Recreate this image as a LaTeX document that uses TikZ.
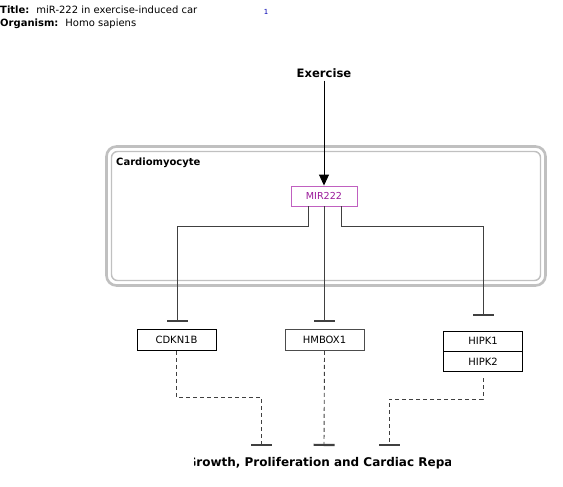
\documentclass[tikz,border=0pt]{standalone}
\usepackage{fontspec}
\setmainfont{DejaVu Sans}
\usetikzlibrary{arrows.meta}
\definecolor{cellgray}{HTML}{C0C0C0}
\definecolor{mirpurple}{HTML}{9A1A9A}
\definecolor{mirborder}{HTML}{C060C0}
\tikzset{
  genebox/.style={draw=black, line width=0.8pt, minimum width=79pt, minimum height=21pt, inner sep=0pt, font=\fontsize{10}{12}\selectfont},
  inhib/.style={draw=black!75, line width=0.9pt, -{Bar[width=21pt,line width=2.2pt]}},
  dinhib/.style={draw=black!75, line width=0.9pt, dash pattern=on 4pt off 3pt, -{Bar[width=21pt,line width=2.2pt]}},
}
\begin{document}
\begin{tikzpicture}[x=1pt,y=-1pt]
\useasboundingbox (0,0) rectangle (563,487);
% header
\node[anchor=west, inner sep=0pt, font=\fontsize{10}{12}\selectfont] (title) at (0,10) {\textbf{Title:}\hspace{7pt}miR-222 in exercise-induced car};
\node[anchor=west, inner sep=0pt, font=\fontsize{10}{12}\selectfont] (org) at (0,24) {\textbf{Organism:}\hspace{7pt}Homo sapiens};
\node[inner sep=0pt, text=blue!70!black, font=\fontsize{7}{8}\selectfont] (num) at (266,12) {1};
% cardiomyocyte compartment
\draw[cellgray, line width=2.6pt, rounded corners=10pt] (106.5,146.5) rectangle (545.5,285.5);
\draw[cellgray, line width=1.4pt, rounded corners=6pt] (111.5,151.5) rectangle (540.5,280.5);
\node[anchor=west, inner sep=0pt, font=\bfseries\fontsize{10}{12}\selectfont] (cell) at (116,163) {Cardiomyocyte};
% nodes
\node[inner sep=0pt, font=\bfseries\fontsize{11.6}{13}\selectfont] (ex) at (324,73) {Exercise};
\node[draw=mirborder, line width=0.9pt, text=mirpurple, minimum width=66pt, minimum height=20pt, inner sep=0pt, font=\fontsize{9.6}{11}\selectfont] (mir) at (324,196) {MIR222};
\node[genebox] (cdk) at (176.5,340) {CDKN1B};
\node[genebox, draw=black!70] (hm) at (324.5,340) {HMBOX1};
\node[genebox, minimum height=20pt] (h1) at (483,341) {HIPK1};
\node[genebox, minimum height=20pt, anchor=north] (h2) at (h1.south) {HIPK2};
% bottom label (clipped)
\begin{scope}
\clip (194,452) rectangle (450.5,474);
\node[inner sep=0pt, font=\bfseries\fontsize{12}{14}\selectfont] (grow) at (324.5,463) {Growth, Proliferation and Cardiac Repair};
\end{scope}
% anchors
\coordinate (tc) at (177,322);
\coordinate (th) at (324,322);
\coordinate (tk) at (483,316);
\coordinate (b1) at (261,446);
\coordinate (b2) at (324,446);
\coordinate (b3) at (389,446);
% connectors
\draw[black, line width=0.9pt, -{Triangle[width=10pt,length=11pt]}] (ex.south) ++(0,3) -- (mir.north);
\draw[inhib] (mir.south -| 308,0) |- (177,226) -- (tc);
\draw[inhib] (mir.south) -- (th);
\draw[inhib] (mir.south -| 341,0) |- (483,226) -- (tk);
\draw[dinhib] (cdk.south) |- (261,397) -- (b1);
\draw[dinhib] (hm.south) -- (b2);
\draw[dinhib] (483,378) |- (389,399) -- (b3);
\end{tikzpicture}
\end{document}
